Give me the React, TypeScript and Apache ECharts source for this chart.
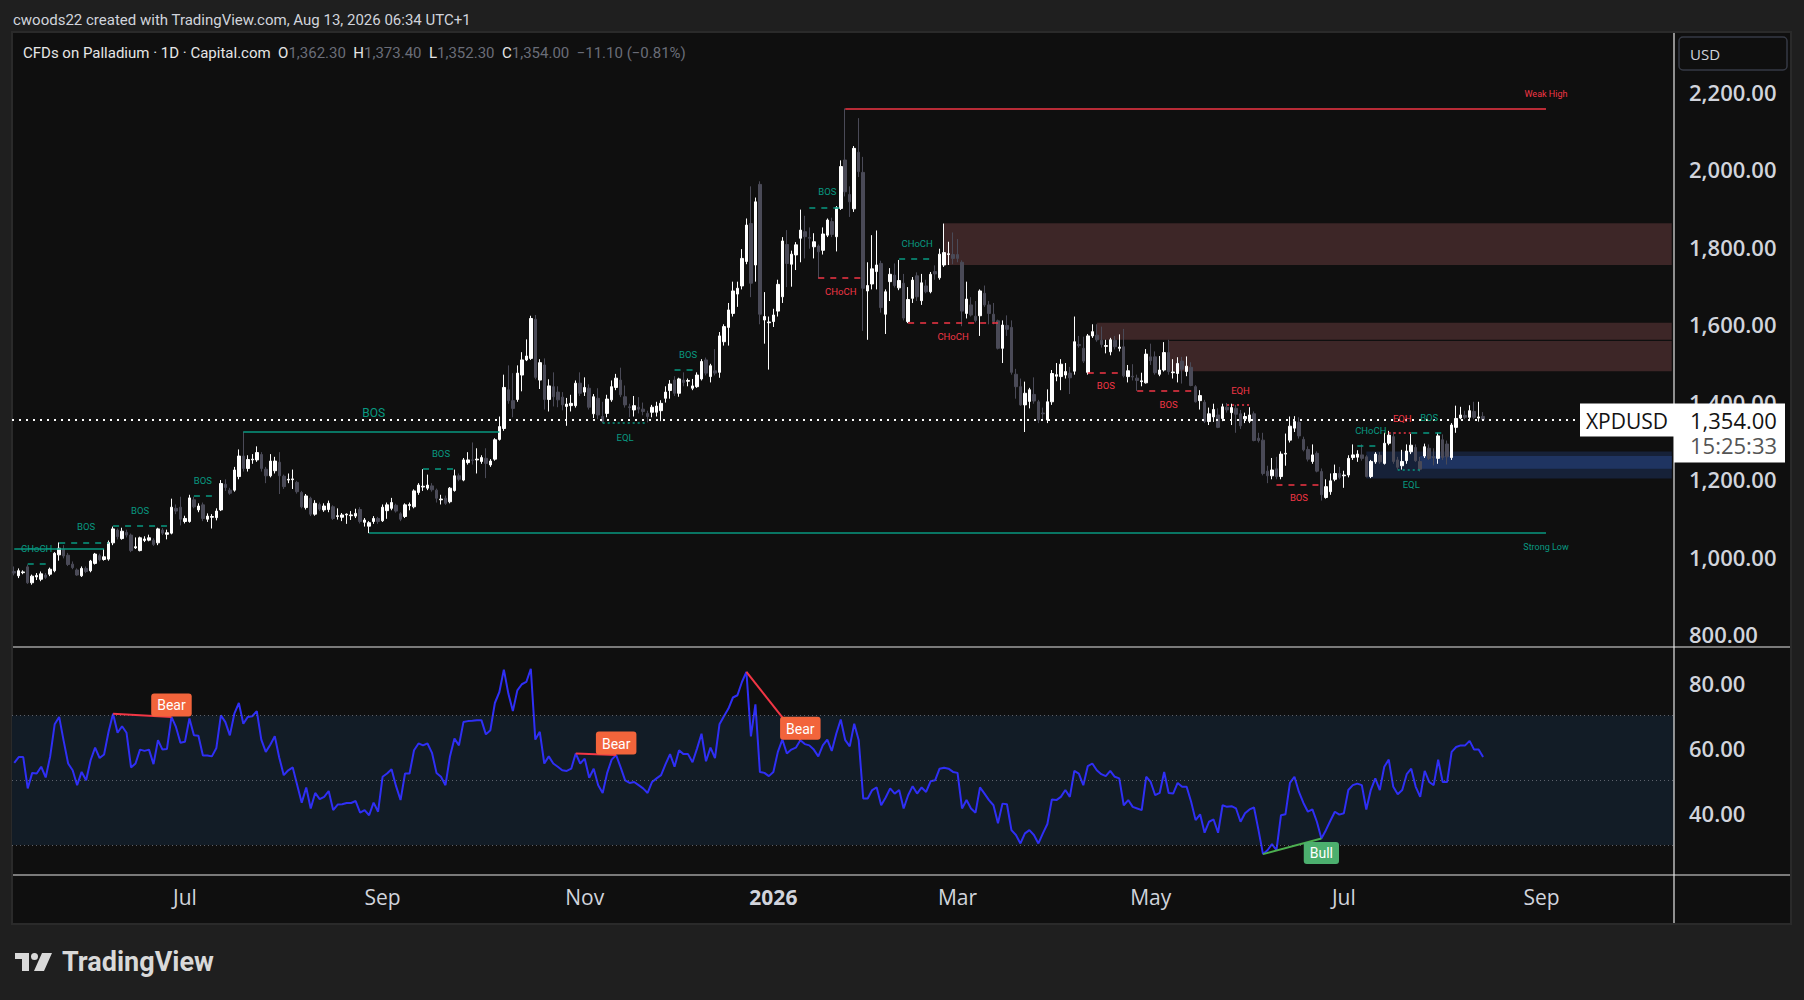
import React, { useEffect, useRef } from 'react';
import * as echarts from 'echarts';

// ---------- axis / category set-up ----------
const START_DATE = '2025-05-08';
const SLOT_COUNT = 370;
const HOLIDAYS = ['2025-12-25', '2026-01-01', '2026-04-03'];
const MONTH_NAMES = ['Jan', 'Feb', 'Mar', 'Apr', 'May', 'Jun', 'Jul', 'Aug', 'Sep', 'Oct', 'Nov', 'Dec'];
const LABEL_MONTHS = [0, 2, 4, 6, 8, 10];

const PRICE_TICKS = [800, 1000, 1200, 1400, 1600, 1800, 2000, 2200];
const PRICE_MIN = 767.2;
const PRICE_MAX = 2351.7;
const RSI_TICKS = [40, 60, 80];
const RSI_MIN = 20.74;
const RSI_MAX = 90.9;
const RSI_BAND = [30, 70];
const RSI_LEVELS = [70, 50, 30];

const LAST_PRICE = 1354;
const LAST_TIME = '15:25:33';
const SYMBOL = 'XPDUSD';
const CURRENCY = 'USD';
const TITLE = 'cwoods22 created with TradingView.com, Aug 13, 2026 06:34 UTC+1';
const INSTRUMENT = 'CFDs on Palladium · 1D · Capital.com';
const OHLC = [['O', '1,362.30'], ['H', '1,373.40'], ['L', '1,352.30'], ['C', '1,354.00']];
const CHANGE = '−11.10 (−0.81%)';

// ---------- candles [open, close, low, high] ----------
const candlesA = [
  [962, 958, 952, 975], [951, 964, 945, 970], [959, 961, 955, 965], [974, 933, 930, 980], [933, 950, 928, 954],
  [948, 952, 940, 958], [942, 956, 937, 962], [953, 947, 943, 958], [955, 968, 950, 972], [964, 1009, 960, 1012],
  [1005, 1022, 990, 1037], [1020, 1002, 996, 1030], [1004, 980, 976, 1010], [981, 972, 968, 988], [966, 953, 951, 970],
  [951, 970, 948, 975], [970, 962, 958, 975], [964, 989, 960, 992], [983, 1007, 980, 1010], [1003, 992, 988, 1008],
  [993, 1000, 990, 1020], [994, 1037, 990, 1042], [1036, 1072, 1030, 1078], [1069, 1052, 1045, 1073], [1047, 1066, 1044, 1075],
  [1063, 1056, 1050, 1070], [1056, 1016, 1012, 1060], [1023, 1026, 1020, 1050], [1016, 1049, 1014, 1052], [1042, 1046, 1038, 1053],
  [1043, 1049, 1040, 1057], [1043, 1032, 1028, 1048], [1036, 1072, 1030, 1075], [1069, 1061, 1056, 1074], [1058, 1062, 1045, 1070],
  [1061, 1128, 1058, 1150], [1125, 1118, 1110, 1135], [1128, 1097, 1081, 1155], [1091, 1099, 1086, 1106], [1091, 1152, 1088, 1160],
  [1147, 1129, 1125, 1155], [1121, 1131, 1115, 1138], [1134, 1099, 1092, 1140], [1097, 1105, 1090, 1112], [1102, 1104, 1073, 1110],
  [1101, 1118, 1094, 1125], [1121, 1189, 1118, 1198], [1187, 1179, 1170, 1200], [1172, 1164, 1160, 1178], [1172, 1224, 1168, 1232],
  [1207, 1260, 1200, 1277], [1260, 1228, 1220, 1323], [1228, 1251, 1220, 1262], [1250, 1252, 1240, 1265], [1250, 1269, 1245, 1285],
  [1264, 1228, 1220, 1270], [1226, 1209, 1190, 1232], [1209, 1247, 1205, 1265], [1222, 1247, 1215, 1258], [1244, 1209, 1162, 1270],
  [1208, 1181, 1175, 1212], [1198, 1200, 1190, 1215], [1199, 1201, 1175, 1225], [1192, 1168, 1163, 1196], [1166, 1129, 1125, 1170],
  [1127, 1157, 1122, 1162], [1151, 1110, 1105, 1155], [1110, 1138, 1106, 1146], [1135, 1123, 1118, 1140], [1121, 1131, 1116, 1138],
  [1122, 1138, 1115, 1145], [1129, 1099, 1095, 1133], [1104, 1106, 1096, 1125], [1102, 1108, 1092, 1113], [1108, 1110, 1085, 1112],
  [1106, 1108, 1095, 1118], [1105, 1112, 1100, 1124], [1122, 1091, 1086, 1128], [1089, 1095, 1078, 1100], [1079, 1088, 1061, 1092],
  [1091, 1099, 1085, 1105], [1099, 1091, 1085, 1103], [1093, 1128, 1090, 1135], [1119, 1134, 1098, 1140], [1125, 1140, 1120, 1152],
  [1133, 1118, 1114, 1137],
];
const candlesB = [
  [1111, 1097, 1092, 1115], [1104, 1134, 1100, 1138], [1132, 1135, 1120, 1140], [1129, 1170, 1125, 1174], [1166, 1185, 1160, 1190],
  [1180, 1182, 1170, 1226], [1177, 1185, 1172, 1212], [1183, 1173, 1168, 1190], [1172, 1151, 1140, 1176], [1147, 1149, 1135, 1160],
  [1151, 1138, 1134, 1158], [1142, 1177, 1138, 1180], [1171, 1209, 1168, 1225], [1209, 1200, 1195, 1215], [1198, 1250, 1195, 1255],
  [1243, 1250, 1238, 1270], [1250, 1249, 1238, 1295], [1250, 1252, 1215, 1280], [1246, 1256, 1240, 1262], [1254, 1241, 1203, 1280],
  [1237, 1247, 1232, 1252], [1252, 1302, 1248, 1306], [1303, 1336, 1300, 1362], [1331, 1437, 1325, 1470], [1431, 1403, 1395, 1494],
  [1403, 1383, 1360, 1474], [1406, 1474, 1400, 1494], [1469, 1508, 1427, 1528], [1508, 1518, 1505, 1561], [1512, 1615, 1508, 1622],
  [1613, 1463, 1458, 1624], [1456, 1501, 1433, 1510], [1495, 1406, 1380, 1512], [1406, 1441, 1375, 1458], [1439, 1413, 1388, 1476],
  [1425, 1405, 1386, 1440], [1412, 1392, 1378, 1425], [1388, 1394, 1338, 1410], [1390, 1396, 1375, 1418], [1390, 1448, 1385, 1455],
  [1448, 1422, 1415, 1476], [1425, 1437, 1415, 1463], [1435, 1386, 1380, 1445], [1369, 1413, 1358, 1420], [1409, 1366, 1355, 1435],
  [1362, 1349, 1345, 1400], [1370, 1407, 1360, 1418], [1405, 1439, 1400, 1455], [1437, 1461, 1430, 1472], [1456, 1418, 1412, 1488],
  [1413, 1392, 1385, 1442], [1387, 1385, 1360, 1395], [1379, 1390, 1362, 1415], [1386, 1381, 1370, 1412], [1381, 1375, 1365, 1398],
  [1370, 1362, 1347, 1377], [1373, 1386, 1360, 1392], [1373, 1389, 1362, 1400], [1377, 1396, 1350, 1404], [1409, 1425, 1398, 1440],
  [1429, 1446, 1408, 1456], [1456, 1422, 1415, 1466], [1422, 1459, 1413, 1462], [1456, 1450, 1440, 1476], [1453, 1455, 1440, 1460],
  [1435, 1441, 1430, 1459], [1439, 1469, 1436, 1476], [1459, 1504, 1455, 1510], [1508, 1474, 1468, 1514], [1465, 1493, 1450, 1498],
  [1480, 1474, 1468, 1536], [1476, 1570, 1462, 1580], [1555, 1594, 1545, 1600], [1592, 1637, 1545, 1655], [1628, 1686, 1620, 1710],
  [1678, 1693, 1645, 1710], [1699, 1770, 1690, 1794], [1762, 1856, 1755, 1873], [1860, 1706, 1670, 1956],
];
const candlesC = [
  [1753, 1916, 1710, 1927], [1961, 1626, 1600, 1969], [1611, 1620, 1550, 1683], [1604, 1606, 1483, 1620], [1607, 1624, 1593, 1640],
  [1634, 1703, 1620, 1715], [1671, 1815, 1655, 1825], [1806, 1757, 1696, 1843], [1755, 1781, 1697, 1790], [1779, 1805, 1740, 1812],
  [1822, 1843, 1760, 1896], [1839, 1826, 1770, 1880], [1824, 1822, 1795, 1850], [1800, 1813, 1770, 1835], [1802, 1787, 1718, 1806],
  [1791, 1833, 1780, 1850], [1830, 1869, 1825, 1873], [1865, 1832, 1825, 1875], [1826, 1901, 1788, 1905], [1899, 2007, 1895, 2023],
  [2024, 1942, 1930, 2157], [1935, 1916, 1877, 1956], [1898, 2054, 1890, 2060], [2044, 1994, 1980, 2132], [1992, 1693, 1583, 2032],
  [1686, 1700, 1560, 1760], [1704, 1743, 1690, 1830], [1736, 1753, 1690, 1842], [1757, 1643, 1630, 1764], [1626, 1684, 1575, 1690],
  [1710, 1729, 1660, 1745], [1727, 1700, 1695, 1757], [1694, 1713, 1688, 1766], [1706, 1616, 1610, 1730], [1607, 1664, 1603, 1696],
  [1667, 1714, 1655, 1722], [1725, 1671, 1660, 1734], [1661, 1707, 1650, 1730], [1699, 1684, 1680, 1715], [1684, 1729, 1680, 1735],
  [1736, 1730, 1715, 1752], [1720, 1781, 1715, 1795], [1753, 1785, 1748, 1860], [1780, 1782, 1753, 1813], [1780, 1770, 1755, 1837],
  [1780, 1770, 1760, 1820], [1760, 1634, 1595, 1765], [1628, 1665, 1615, 1710], [1650, 1624, 1620, 1670], [1621, 1610, 1605, 1660],
  [1622, 1686, 1570, 1690], [1680, 1650, 1645, 1700], [1650, 1628, 1600, 1660], [1626, 1607, 1600, 1655], [1609, 1538, 1535, 1612],
  [1538, 1598, 1500, 1610], [1597, 1587, 1570, 1623], [1592, 1476, 1470, 1610], [1471, 1439, 1408, 1485], [1439, 1392, 1390, 1460],
  [1392, 1422, 1322, 1452], [1401, 1431, 1383, 1436], [1419, 1402, 1395, 1463], [1400, 1353, 1345, 1405], [1371, 1369, 1355, 1385],
  [1353, 1400, 1345, 1432], [1400, 1473, 1392, 1482], [1466, 1470, 1453, 1500], [1465, 1497, 1430, 1510], [1469, 1478, 1460, 1500],
  [1474, 1462, 1420, 1490], [1479, 1555, 1470, 1620], [1548, 1545, 1540, 1570], [1538, 1505, 1500, 1568], [1476, 1570, 1470, 1575],
  [1570, 1581, 1565, 1600], [1572, 1560, 1555, 1600], [1559, 1548, 1540, 1594], [1543, 1545, 1525, 1560], [1529, 1560, 1520, 1565],
  [1559, 1542, 1535, 1570], [1538, 1541, 1530, 1574],
];
const candlesD = [
  [1542, 1467, 1463, 1588], [1465, 1480, 1450, 1495], [1466, 1464, 1455, 1497], [1461, 1455, 1428, 1470], [1452, 1454, 1440, 1475],
  [1449, 1523, 1447, 1536], [1516, 1506, 1495, 1550], [1516, 1475, 1470, 1530], [1471, 1482, 1466, 1518], [1482, 1527, 1478, 1554],
  [1527, 1478, 1470, 1560], [1475, 1477, 1460, 1510], [1473, 1499, 1450, 1515], [1505, 1484, 1447, 1516], [1478, 1492, 1466, 1517],
  [1489, 1442, 1440, 1502], [1439, 1400, 1398, 1443], [1403, 1416, 1380, 1430], [1399, 1349, 1345, 1405], [1349, 1369, 1340, 1385],
  [1361, 1380, 1348, 1395], [1366, 1334, 1332, 1383], [1357, 1387, 1350, 1395], [1386, 1379, 1372, 1397], [1372, 1385, 1340, 1395],
  [1383, 1368, 1320, 1392], [1369, 1338, 1330, 1379], [1356, 1362, 1345, 1372], [1350, 1366, 1345, 1386], [1369, 1300, 1298, 1375],
  [1306, 1300, 1295, 1320], [1301, 1215, 1210, 1320], [1221, 1209, 1190, 1235], [1209, 1224, 1200, 1255], [1227, 1207, 1200, 1258],
  [1207, 1265, 1200, 1272], [1265, 1267, 1235, 1318], [1301, 1337, 1295, 1362], [1332, 1349, 1322, 1363], [1347, 1312, 1305, 1360],
  [1303, 1276, 1272, 1310], [1277, 1252, 1246, 1285], [1246, 1263, 1240, 1290], [1267, 1221, 1218, 1272], [1220, 1160, 1145, 1228],
  [1153, 1181, 1150, 1200], [1168, 1196, 1160, 1215], [1200, 1215, 1195, 1238], [1215, 1205, 1200, 1232], [1209, 1211, 1178, 1222],
  [1211, 1254, 1205, 1262], [1256, 1263, 1250, 1290], [1257, 1265, 1245, 1275], [1263, 1254, 1248, 1290], [1258, 1207, 1205, 1262],
  [1207, 1246, 1203, 1250], [1245, 1265, 1240, 1270], [1262, 1245, 1240, 1270], [1241, 1293, 1238, 1320], [1293, 1314, 1288, 1325],
  [1310, 1246, 1240, 1322], [1250, 1231, 1225, 1258], [1235, 1246, 1225, 1276], [1248, 1273, 1240, 1290], [1271, 1288, 1265, 1317],
  [1282, 1248, 1245, 1290], [1246, 1226, 1220, 1258], [1260, 1284, 1255, 1292], [1280, 1254, 1250, 1290], [1258, 1256, 1236, 1280],
  [1254, 1312, 1240, 1320], [1302, 1256, 1250, 1316], [1291, 1258, 1238, 1300], [1256, 1340, 1250, 1345], [1334, 1357, 1320, 1390],
  [1358, 1366, 1355, 1387], [1365, 1360, 1355, 1377], [1360, 1377, 1355, 1391], [1375, 1360, 1355, 1400], [1358, 1361, 1349, 1400],
  [1362.3, 1354, 1352.3, 1373.4],
];

// ---------- RSI ----------
const rsiA = [
  55.4, 57.2, 57.2, 47.5, 52.3, 52.1, 54.2, 50.9, 57.4, 67.3, 69.6, 62.2, 55.2, 53.1, 48.5, 52.6, 50.0, 56.2, 60.1, 56.9,
  58.0, 65.0, 70.6, 64.7, 66.7, 64.7, 54.0, 55.2, 59.5, 59.1, 59.5, 55.0, 62.4, 59.5, 59.7, 69.6, 66.5, 61.6, 61.9, 69.1,
  63.9, 63.8, 57.7, 57.7, 57.4, 60.0, 70.1, 68.0, 63.9, 70.6, 73.9, 67.5, 69.6, 69.8, 71.4, 62.6, 58.8, 61.0, 63.6, 57.0,
  51.6, 53.1, 54.0, 48.5, 43.1, 47.8, 41.3, 46.1, 44.2, 44.9, 46.7, 40.8, 42.5, 42.6, 43.0, 43.0, 43.6, 40.0, 40.8, 39.2,
  43.1, 40.3, 51.1, 52.1, 53.4, 48.2, 43.9, 52.1, 52.1, 59.3, 61.4, 60.8, 61.4, 58.5, 52.3, 51.1, 48.5, 57.4, 62.9, 60.8,
  68.0, 68.3, 68.4, 68.6, 68.6, 64.2, 65.5, 73.9, 77.3, 84.2, 76.8, 71.4, 77.8, 79.7, 80.4, 84.5, 62.6, 65.0, 55.2, 57.4,
  55.2, 54.2, 53.1, 52.9, 53.6, 58.3, 55.2, 56.7, 50.8, 53.6, 48.5, 46.1, 52.3, 56.4, 57.8, 54.0, 50.0, 49.2, 49.5, 48.5,
  47.5, 46.1, 49.5, 50.6, 51.6, 55.0, 58.1, 54.2, 59.3, 58.1, 58.1, 55.6, 59.8, 64.4, 55.9, 60.1, 56.9, 67.3, 69.8, 72.2,
  75.6, 76.3, 80.4, 83.5, 63.6, 73.5, 52.6, 52.3, 51.3,
];
const rsiB = [
  52.6, 58.8, 62.6, 58.3, 59.5, 60.1, 62.4, 61.2, 60.8, 59.5, 57.4, 60.8, 62.6, 59.1, 64.4, 68.8, 62.4, 60.5, 67.5, 62.4,
  44.4, 44.4, 47.0, 47.8, 42.3, 44.7, 47.5, 45.9, 47.0, 41.3, 45.4, 48.2, 45.9, 47.8, 46.4, 49.7, 50.0, 53.6, 53.9, 53.6,
  52.6, 52.3, 41.3, 43.9, 41.3, 40.0, 47.8, 45.9, 43.9, 42.3, 36.7, 42.8, 42.6, 34.6, 33.1, 30.5, 33.6, 34.6, 33.1, 30.5,
  33.6, 36.5, 44.1, 43.9, 44.9, 47.0, 44.9, 52.9, 52.1, 48.5, 54.4, 55.2, 53.1, 51.9, 51.3, 52.9, 51.1, 50.6, 42.3, 43.9,
  41.8, 41.3, 40.8, 51.1, 49.5, 45.4, 46.1, 52.6, 46.1, 45.9, 49.2, 48.0, 48.0, 43.4, 37.7, 39.5, 33.8, 37.2, 37.9, 33.8,
  42.3, 41.8, 42.0, 41.3, 37.2, 39.8, 41.0, 41.6, 34.6, 27.2, 28.4, 30.3, 28.4, 39.2, 39.5, 49.2, 51.1, 46.4, 43.0, 40.3,
  41.0, 37.2, 32.0, 34.6, 37.5, 40.3, 39.4, 39.8, 47.0, 48.5, 49.0, 48.5, 41.0, 47.0, 50.6, 47.0, 54.2, 56.4, 48.0, 45.7,
  47.0, 51.9, 53.6, 48.0, 44.9, 52.9, 49.5, 48.5, 56.4, 49.5, 49.5, 58.8, 60.3, 60.8, 60.8, 62.2, 59.5, 59.5, 57.2,
];
const BEAR_DIVERGENCES = [[22, 35], [125, 134], [163, 175]];
const BULL_DIVERGENCES = [[278, 291]];

// ---------- Smart-money structure: [label, side, price, fromIndex, toIndex] ----------
const INTERNAL_BREAKS = [
  ['CHoCH', 'bull', 981, 3, 7], ['BOS', 'bull', 1037, 10, 21], ['BOS', 'bull', 1080, 22, 34],
  ['BOS', 'bull', 1158, 40, 44], ['BOS', 'bull', 1226, 91, 98], ['BOS', 'bull', 1482, 147, 152],
  ['BOS', 'bull', 1902, 177, 184], ['CHoCH', 'bear', 1719, 179, 189], ['CHoCH', 'bull', 1768, 197, 205],
  ['CHoCH', 'bear', 1603, 199, 219], ['BOS', 'bear', 1476, 239, 247], ['BOS', 'bear', 1428, 250, 263],
  ['BOS', 'bear', 1187, 281, 291], ['CHoCH', 'bull', 1287, 299, 304], ['BOS', 'bull', 1319, 311, 318],
];
const EQUAL_LEVELS = [
  ['EQL', 'bull', 1345, 131, 141], ['EQH', 'bear', 1393, 270, 275],
  ['EQH', 'bear', 1319, 306, 311], ['EQL', 'bull', 1224, 308, 313],
];
const SWING_BREAKS = [['', 'bull', 1022, 0, 20], ['BOS', 'bull', 1323, 51, 108]];
const TRAILING_EXTREMES = [['Weak High', 'bear', 2157, 185, 341], ['Strong Low', 'bull', 1061, 79, 341]];
// [side, top, bottom, fromIndex]
const ORDER_BLOCKS = [
  ['bear', 1861, 1753, 207], ['bear', 1604, 1560, 241], ['bear', 1557, 1479, 257],
  ['bull', 1272, 1202, 301], ['bull', 1260, 1227, 313],
];

// ---------- helpers ----------
const TEAL = '#089981';
const RED = '#f23645';
const AXIS_TEXT = '#d1d4dc';

function buildDates(): string[] {
  const out: string[] = [];
  const d = new Date(START_DATE + 'T00:00:00Z');
  while (out.length < SLOT_COUNT) {
    const wd = d.getUTCDay();
    const s = d.toISOString().slice(0, 10);
    if (wd !== 0 && wd !== 6 && HOLIDAYS.indexOf(s) < 0) out.push(s);
    d.setUTCDate(d.getUTCDate() + 1);
  }
  return out;
}

const fmt2 = (v: number) =>
  v.toLocaleString('en-US', { minimumFractionDigits: 2, maximumFractionDigits: 2 });

const LOGO_PATH =
  'M0 0H14V18H7V6H0Z M16 3.5A3.5 3.5 0 1 0 23 3.5A3.5 3.5 0 1 0 16 3.5Z M27 0H37L29 18H19Z';
echarts.graphic.registerShape('tvlogo', echarts.graphic.extendPath(LOGO_PATH, {}) as any);

function labelPoint(text: string, idx: number, price: number, color: string, above: boolean, size: number, dist: number) {
  return {
    coord: [idx, price],
    symbol: 'circle',
    symbolSize: 1,
    itemStyle: { color: 'rgba(0,0,0,0)' },
    label: {
      show: true,
      formatter: text,
      position: above ? 'top' : 'bottom',
      distance: dist,
      color,
      fontSize: size,
      fontFamily: 'Roboto, sans-serif',
    },
  };
}

function segment(from: number, to: number, price: number, color: string, type: any, width: number) {
  return [
    { coord: [from, price], lineStyle: { color, type, width } },
    { coord: [to, price] },
  ];
}

export default function App() {
  const ref = useRef<HTMLDivElement>(null);

  useEffect(() => {
    const el = ref.current;
    if (!el) return;
    const chart = echarts.init(el, null, { renderer: 'svg', width: 1804, height: 1000 });
    const dates = buildDates();
    const candles = [...candlesA, ...candlesB, ...candlesC, ...candlesD];
    const rsi = [...rsiA, ...rsiB];

    const structLines: any[] = [];
    const structLabels: any[] = [];
    INTERNAL_BREAKS.forEach(([t, side, p, a, b]: any) => {
      const c = side === 'bull' ? TEAL : RED;
      structLines.push(segment(a, b, p, c, [6, 6], 1.5));
      structLabels.push(labelPoint(t, Math.round((a + b) / 2), p, c, side === 'bull', 9.5, side === 'bull' ? 10 : 8));
    });
    EQUAL_LEVELS.forEach(([t, side, p, a, b]: any) => {
      const c = side === 'bull' ? TEAL : RED;
      structLines.push(segment(a, b, p, c, [2, 3], 1.5));
      structLabels.push(labelPoint(t, Math.round((a + b) / 2), p, c, side === 'bear', 9.5, 9));
    });
    SWING_BREAKS.forEach(([t, side, p, a, b]: any) => {
      const c = side === 'bull' ? TEAL : RED;
      structLines.push(segment(a, b, p, c, 'solid', 1.5));
      if (t) structLabels.push(labelPoint(t, Math.round((a + b) / 2), p, c, side === 'bull', 12, 12));
    });
    TRAILING_EXTREMES.forEach(([t, side, p, a, b]: any) => {
      const c = side === 'bull' ? TEAL : RED;
      structLines.push(segment(a, b, p, c, 'solid', 1.5));
      structLabels.push(labelPoint(t, b, p, c, side === 'bear', 9, 9));
    });
    structLines.push({
      yAxis: LAST_PRICE,
      lineStyle: { color: '#ffffff', type: [2, 5], width: 2 },
    });

    const blocks = ORDER_BLOCKS.map(([side, top, bottom, from]: any, k) => [
      {
        coord: [from, top],
        itemStyle: {
          color: side === 'bear' ? '#3d2627' : k === ORDER_BLOCKS.length - 1 ? '#1f3461' : '#162138',
        },
      },
      { coord: [SLOT_COUNT - 1, bottom] },
    ]);

    const rsiLines: any[] = RSI_LEVELS.map((v) => ({
      yAxis: v,
      lineStyle: { color: 'rgba(120,123,134,0.75)', type: [1, 3], width: 1 },
    }));
    const rsiLabels: any[] = [];
    BEAR_DIVERGENCES.forEach(([a, b]) => {
      rsiLines.push([
        { coord: [a, rsi[a]], lineStyle: { color: RED, type: 'solid', width: 2 } },
        { coord: [b, rsi[b]] },
      ]);
      rsiLabels.push({
        coord: [b, rsi[b]],
        symbol: 'circle',
        symbolSize: 1,
        itemStyle: { color: 'rgba(0,0,0,0)' },
        label: {
          show: true, formatter: 'Bear', position: 'top', distance: 0,
          backgroundColor: '#f2643b', color: '#ffffff', padding: [4, 6, 3, 6], borderRadius: 3,
          fontSize: 14, fontFamily: 'Roboto, sans-serif', lineHeight: 16,
        },
      });
    });
    BULL_DIVERGENCES.forEach(([a, b]) => {
      rsiLines.push([
        { coord: [a, rsi[a]], lineStyle: { color: '#4caf50', type: 'solid', width: 2 } },
        { coord: [b, rsi[b]] },
      ]);
      rsiLabels.push({
        coord: [b, rsi[b]],
        symbol: 'circle',
        symbolSize: 1,
        itemStyle: { color: 'rgba(0,0,0,0)' },
        label: {
          show: true, formatter: 'Bull', position: 'bottom', distance: 3,
          backgroundColor: '#4caf6e', color: '#ffffff', padding: [3, 6, 3, 6], borderRadius: 3,
          fontSize: 14, fontFamily: 'Roboto, sans-serif', lineHeight: 16,
        },
      });
    });

    const isLabelSlot = (index: number) => {
      if (index <= 0) return false;
      const m = Number(dates[index].slice(5, 7)) - 1;
      const pm = Number(dates[index - 1].slice(5, 7)) - 1;
      return m !== pm && LABEL_MONTHS.indexOf(m) >= 0;
    };

    const option: any = {
      animation: false,
      backgroundColor: '#1f1f1f',
      grid: [
        { left: 12, right: 130, top: 33, height: 614 },
        { left: 12, right: 130, top: 648, height: 227 },
      ],
      xAxis: [
        {
          type: 'category', gridIndex: 0, data: dates, boundaryGap: true,
          axisLine: { show: false }, axisTick: { show: false }, axisLabel: { show: false }, splitLine: { show: false },
        },
        {
          type: 'category', gridIndex: 1, data: dates, boundaryGap: true,
          axisLine: { show: false }, axisTick: { show: false }, splitLine: { show: false },
          axisLabel: {
            show: true,
            interval: (index: number) => isLabelSlot(index),
            formatter: (value: string) => {
              const m = Number(value.slice(5, 7)) - 1;
              return m === 0 ? '{y|' + value.slice(0, 4) + '}' : MONTH_NAMES[m];
            },
            color: AXIS_TEXT, fontSize: 21, fontFamily: '"Open Sans", sans-serif', margin: 11,
            rich: { y: { color: AXIS_TEXT, fontSize: 21, fontWeight: 700, fontFamily: '"Open Sans", sans-serif' } },
          },
        },
      ],
      yAxis: [
        {
          type: 'value', gridIndex: 0, position: 'right', min: PRICE_MIN, max: PRICE_MAX,
          axisLine: { show: false }, axisTick: { show: false }, splitLine: { show: false },
          axisLabel: {
            customValues: PRICE_TICKS, formatter: (v: number) => fmt2(v), color: AXIS_TEXT,
            fontSize: 22, fontWeight: 600, fontFamily: '"Open Sans", sans-serif', margin: 15,
          },
        },
        {
          type: 'value', gridIndex: 1, position: 'right', min: RSI_MIN, max: RSI_MAX,
          axisLine: { show: false }, axisTick: { show: false }, splitLine: { show: false },
          axisLabel: {
            customValues: RSI_TICKS, formatter: (v: number) => fmt2(v), color: AXIS_TEXT,
            fontSize: 22, fontWeight: 600, fontFamily: '"Open Sans", sans-serif', margin: 15,
          },
        },
      ],
      series: [
        {
          type: 'candlestick', name: 'XPDUSD', xAxisIndex: 0, yAxisIndex: 0, data: candles,
          barWidth: 3,
          itemStyle: {
            color: '#ffffff', color0: '#4a4a57', borderColor: '#ffffff', borderColor0: '#4a4a57', borderWidth: 1,
          },
          markArea: { silent: true, data: blocks },
          markLine: { silent: true, symbol: ['none', 'none'], label: { show: false }, data: structLines },
          markPoint: { silent: true, data: structLabels },
        },
        {
          type: 'line', name: 'RSI', xAxisIndex: 1, yAxisIndex: 1, data: rsi, symbol: 'none',
          lineStyle: { color: '#2f2ff5', width: 2 },
          markArea: {
            silent: true,
            data: [[{ yAxis: RSI_BAND[0], itemStyle: { color: '#121c26' } }, { yAxis: RSI_BAND[1] }]],
          },
          markLine: { silent: true, symbol: ['none', 'none'], label: { show: false }, data: rsiLines },
          markPoint: { silent: true, data: rsiLabels },
        },
      ],
    };
    chart.setOption(option);

    const py = chart.convertToPixel({ yAxisIndex: 0 }, LAST_PRICE) as number;
    const legendText =
      '{w|' + INSTRUMENT + '}  ' +
      OHLC.map(([k, v]) => '{w|' + k + '}{g|' + v + '}').join('  ') +
      '  {g|' + CHANGE + '}';

    const graphic: any[] = [
      {
        type: 'rect', id: 'frame', z: -10, silent: true,
        shape: { x: 12, y: 32, width: 1779, height: 892 },
        style: { fill: '#0f0f0f', stroke: '#2a2a2a', lineWidth: 2 },
      },
      {
        type: 'text', id: 'title', x: 13, y: 20, z: 100, silent: true,
        style: { text: TITLE, fill: AXIS_TEXT, font: '15px Roboto, sans-serif', verticalAlign: 'middle' },
      },
      {
        type: 'text', id: 'legend', x: 23, y: 53, z: 100, silent: true,
        style: {
          text: legendText, font: '15px Roboto, sans-serif', verticalAlign: 'middle', fill: '#ffffff',
          rich: {
            w: { fill: '#e6e6e6', font: '15px Roboto, sans-serif' },
            g: { fill: '#6a6d78', font: '15px Roboto, sans-serif' },
          },
        },
      },
      {
        type: 'line', id: 'vsep', z: 100, silent: true,
        shape: { x1: 1674, y1: 33, x2: 1674, y2: 923 }, style: { stroke: '#e6e6e6', lineWidth: 1.2 },
      },
      {
        type: 'line', id: 'hsep1', z: 100, silent: true,
        shape: { x1: 13, y1: 647, x2: 1790, y2: 647 }, style: { stroke: '#e6e6e6', lineWidth: 1.2 },
      },
      {
        type: 'line', id: 'hsep2', z: 100, silent: true,
        shape: { x1: 13, y1: 875, x2: 1790, y2: 875 }, style: { stroke: '#e6e6e6', lineWidth: 1.2 },
      },
      {
        type: 'rect', id: 'usdbox', z: 100, silent: true,
        shape: { x: 1679, y: 37, width: 108, height: 33, r: 4 },
        style: { fill: '#0f0f0f', stroke: '#363a45', lineWidth: 1.5 },
      },
      {
        type: 'text', id: 'usd', x: 1690, y: 54, z: 101, silent: true,
        style: { text: CURRENCY, fill: AXIS_TEXT, font: '15px "Open Sans", sans-serif', verticalAlign: 'middle' },
      },
      {
        type: 'rect', id: 'symbox', z: 110, silent: true,
        shape: { x: 1580, y: py - 16, width: 94, height: 33 },
        style: { fill: '#ffffff' },
      },
      {
        type: 'text', id: 'symtext', x: 1627, y: py + 1, z: 111, silent: true,
        style: {
          text: SYMBOL, fill: '#131313', font: '21px "Open Sans", sans-serif', align: 'center', verticalAlign: 'middle',
        },
      },
      {
        type: 'rect', id: 'pricebox', z: 110, silent: true,
        shape: { x: 1674, y: py - 16, width: 111, height: 59 },
        style: { fill: '#ffffff' },
      },
      {
        type: 'text', id: 'pricetext', x: 1690, y: py - 12, z: 111, silent: true,
        style: {
          text: '{p|' + fmt2(LAST_PRICE) + '}\n{t|' + LAST_TIME + '}',
          font: '22px "Open Sans", sans-serif', verticalAlign: 'top', fill: '#131313',
          rich: {
            p: { fill: '#131313', font: '22px "Open Sans", sans-serif', lineHeight: 25 },
            t: { fill: '#555555', font: '22px "Open Sans", sans-serif', lineHeight: 25 },
          },
        },
      },
      {
        type: 'tvlogo', id: 'logo', x: 15, y: 953, scaleX: 1, scaleY: 1, z: 100, silent: true,
        style: { fill: '#d9d9d9' },
      },
      {
        type: 'text', id: 'tvtext', x: 62, y: 962, z: 100, silent: true,
        style: { text: 'TradingView', fill: '#d9d9d9', font: 'bold 27px Roboto, sans-serif', verticalAlign: 'middle' },
      },
    ];
    chart.setOption({ graphic });

    return () => {
      chart.dispose();
    };
  }, []);

  return (
    <div style={{ position: 'fixed', left: 0, top: 0, width: 1804, height: 1000, background: '#1f1f1f' }}>
      <div ref={ref} style={{ width: 1804, height: 1000 }} />
    </div>
  );
}
